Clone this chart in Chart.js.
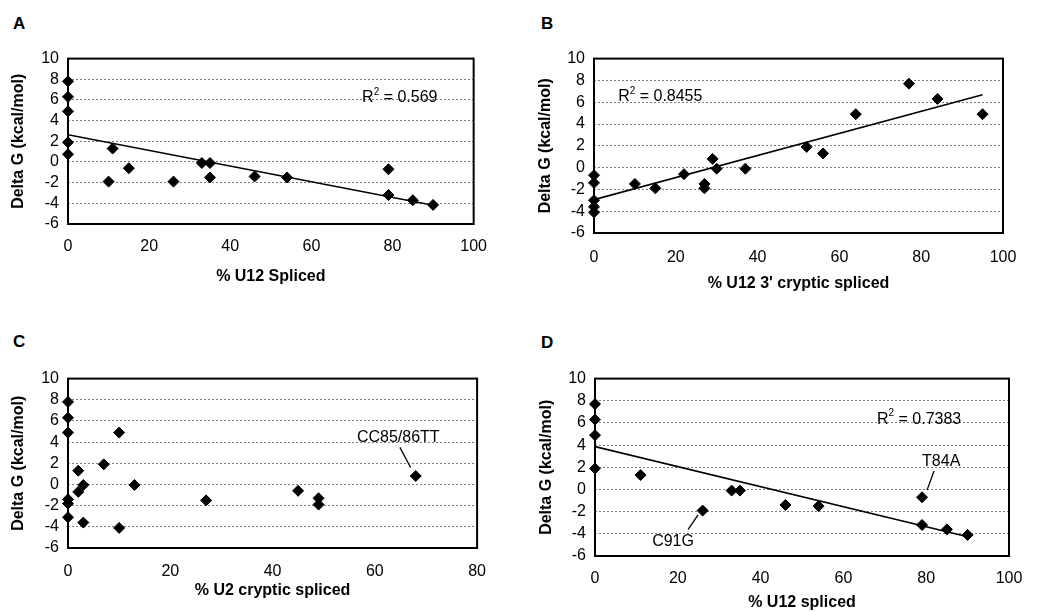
<!DOCTYPE html>
<html>
<head>
<meta charset="utf-8">
<script src="https://cdn.jsdelivr.net/npm/chart.js@4"></script>
<style>
  body { margin: 0; background: #fff; width: 1037px; height: 612px; position: relative; overflow: hidden; font-family: "Liberation Sans", Arial, sans-serif; }
  canvas { position: absolute; }
  .letter { position: absolute; font-weight: bold; font-size: 17px; color: #000; }
</style>
</head>
<body>
<div class="letter" style="left:13px;top:14px">A</div>
<div class="letter" style="left:541px;top:14px">B</div>
<div class="letter" style="left:13px;top:332px">C</div>
<div class="letter" style="left:541px;top:333px">D</div>
<canvas id="chartA" width="500" height="250" style="left:0;top:40px"></canvas>
<canvas id="chartB" width="517" height="255" style="left:520px;top:40px"></canvas>
<canvas id="chartC" width="500" height="252" style="left:0;top:360px"></canvas>
<canvas id="chartD" width="517" height="252" style="left:520px;top:360px"></canvas>
<script>
// Panel A: % U12 spliced vs delta G
const aX = [0, 0, 0, 0, 0, 11, 10, 15, 26, 33, 35, 35, 46, 54, 79, 79, 85, 90];
const aY = [7.8, 6.3, 4.9, 1.9, 0.75, 1.3, -1.9, -0.6, -1.9, -0.1, -0.1, -1.5, -1.4, -1.5, -0.7, -3.2, -3.7, -4.15];

// Panel B: % U12 3' cryptic spliced
const bX = [0, 0, 0, 0, 0, 10, 15, 22, 27, 27, 29, 30, 37, 52, 56, 64, 77, 84, 95];
const bY = [-0.7, -1.4, -3.0, -3.6, -4.1, -1.5, -1.9, -0.6, -1.5, -1.9, 0.8, -0.1, -0.1, 1.9, 1.3, 4.9, 7.7, 6.3, 4.9];

// Panel C: % U2 cryptic spliced
const cX = [0, 0, 0, 0, 0, 0, 2, 2, 3, 3, 7, 10, 10, 13, 27, 45, 49, 49, 68];
const cY = [7.8, 6.3, 4.9, -1.4, -1.8, -3.1, 1.3, -0.7, -0.05, -3.6, 1.9, 4.9, -4.1, -0.05, -1.5, -0.6, -1.3, -1.9, 0.8];

// Panel D: % U12 spliced (subset)
const dX = [0, 0, 0, 0, 11, 26, 33, 35, 46, 54, 79, 79, 85, 90];
const dY = [7.7, 6.3, 4.9, 1.9, 1.3, -1.9, -0.1, -0.1, -1.4, -1.5, -0.7, -3.2, -3.6, -4.1];

const yTicks = [-6, -4, -2, 0, 2, 4, 6, 8, 10];

const FONT = '"Liberation Sans", Arial, sans-serif';

// least squares fit, like the Excel trendline
function linFit(xs, ys) {
    const n = xs.length;
    let sx = 0, sy = 0, sxx = 0, sxy = 0;
    for (let i = 0; i < n; i++) {
        sx += xs[i]; sy += ys[i];
        sxx += xs[i] * xs[i]; sxy += xs[i] * ys[i];
    }
    const slope = (n * sxy - sx * sy) / (n * sxx - sx * sx);
    const icpt = (sy - slope * sx) / n;
    const x0 = Math.min(...xs), x1 = Math.max(...xs);
    return [{ x: x0, y: icpt + slope * x0 }, { x: x1, y: icpt + slope * x1 }];
}

// frame round the plot area + free text notes
const framePlugin = {
    id: 'frame',
    beforeDatasetsDraw(chart) {
        const { ctx, chartArea: a } = chart;
        ctx.save();
        ctx.strokeStyle = '#000';
        ctx.lineWidth = 2;
        ctx.strokeRect(a.left, a.top, a.right - a.left, a.bottom - a.top);
        ctx.restore();
    },
    afterDraw(chart, args, opts) {
        const { ctx, scales } = chart;
        ctx.save();
        (opts.notes || []).forEach(n => {
            const px = scales.x.getPixelForValue(n.x);
            const py = scales.y.getPixelForValue(n.y);
            ctx.fillStyle = '#000';
            ctx.font = '16px ' + FONT;
            ctx.textBaseline = 'middle';
            ctx.textAlign = 'left';
            if (n.r2) {
                ctx.fillText('R', px, py);
                let w = ctx.measureText('R').width;
                ctx.font = '10px ' + FONT;
                ctx.fillText('2', px + w, py - 6);
                w += ctx.measureText('2').width;
                ctx.font = '16px ' + FONT;
                ctx.fillText(' = ' + n.text, px + w, py);
            } else {
                ctx.fillText(n.text, px, py);
            }
        });
        (opts.leaders || []).forEach(l => {
            ctx.strokeStyle = '#000';
            ctx.lineWidth = 1.3;
            ctx.beginPath();
            ctx.moveTo(scales.x.getPixelForValue(l[0]), scales.y.getPixelForValue(l[1]));
            ctx.lineTo(scales.x.getPixelForValue(l[2]), scales.y.getPixelForValue(l[3]));
            ctx.stroke();
        });
        ctx.restore();
    }
};

function makePanel(id, xs, ys, p) {
    const points = xs.map((x, i) => ({ x: x, y: ys[i] }));
    const datasets = [{
        data: points,
        pointStyle: 'rectRot',
        pointRadius: 5.5,
        pointBackgroundColor: '#000',
        pointBorderColor: '#000',
        pointBorderWidth: 1,
        showLine: false,
        clip: false
    }];
    if (p.trend) {
        datasets.push({
            data: linFit(xs, ys),
            showLine: true,
            borderColor: '#000',
            borderWidth: 1.6,
            pointRadius: 0
        });
    }
    new Chart(document.getElementById(id), {
        type: 'scatter',
        data: { datasets },
        plugins: [framePlugin],
        options: {
            responsive: false,
            animation: false,
            events: [],
            layout: { padding: { top: p.top, right: p.right, left: 0, bottom: 0 } },
            plugins: {
                legend: { display: false },
                tooltip: { enabled: false },
                frame: { notes: p.notes, leaders: p.leaders }
            },
            scales: {
                x: {
                    type: 'linear',
                    min: 0,
                    max: p.xMax,
                    afterFit: s => { s.height = p.xH; },
                    ticks: { stepSize: 20, autoSkip: false, color: '#000', padding: p.xTickPad, font: { family: FONT, size: 16 } },
                    grid: { display: false, drawTicks: false },
                    border: { display: false },
                    title: { display: true, text: p.xTitle, color: '#000', padding: { top: 0, bottom: p.xTitlePad }, font: { family: FONT, size: 16, weight: 'bold' } }
                },
                y: {
                    type: 'linear',
                    min: -6,
                    max: 10,
                    afterFit: s => { s.width = p.yW; },
                    afterBuildTicks: s => { s.ticks = yTicks.map(v => ({ value: v })); },
                    ticks: { autoSkip: false, color: '#000', padding: 9, font: { family: FONT, size: 16 } },
                    grid: {
                        drawTicks: false,
                        color: '#7a7a7a',
                        lineWidth: 1
                    },
                    border: { display: false, dash: [2, 2] },
                    title: { display: true, text: 'Delta G (kcal/mol)', color: '#000', padding: { top: p.yTitlePad, bottom: 0 }, font: { family: FONT, size: 16, weight: 'bold' } }
                }
            }
        }
    });
}

makePanel('chartA', aX, aY, {
    xMax: 100, xTitle: '% U12 Spliced', trend: true,
    top: 10, right: 15, yW: 68, xH: 66, xTickPad: 13, xTitlePad: 4, yTitlePad: 9,
    notes: [{ x: 72.5, y: 6.2, text: '0.569', r2: true }]
});
makePanel('chartB', bX, bY, {
    xMax: 100, xTitle: "% U12 3' cryptic spliced", trend: true,
    top: 11, right: 34, yW: 74, xH: 62, xTickPad: 15, xTitlePad: 2, yTitlePad: 16,
    notes: [{ x: 5.9, y: 6.5, text: '0.8455', r2: true }]
});
makePanel('chartC', cX, cY, {
    xMax: 80, xTitle: '% U2 cryptic spliced', trend: false,
    top: 10, right: 7, yW: 68, xH: 64, xTickPad: 14, xTitlePad: 12, yTitlePad: 9,
    notes: [{ x: 56.5, y: 4.4, text: 'CC85/86TT' }],
    leaders: [[64.9, 3.5, 67.0, 1.6]]
});
makePanel('chartD', dX, dY, {
    xMax: 100, xTitle: '% U12 spliced', trend: true,
    top: 10, right: 28, yW: 75, xH: 56, xTickPad: 13, xTitlePad: 0, yTitlePad: 17,
    notes: [{ x: 68.1, y: 6.3, text: '0.7383', r2: true }, { x: 79, y: 2.5, text: 'T84A' }, { x: 13.8, y: -4.7, text: 'C91G' }],
    leaders: [[81.9, 1.66, 80.2, -0.06], [22.5, -3.6, 24.9, -2.3]]
});
</script>
</body>
</html>
